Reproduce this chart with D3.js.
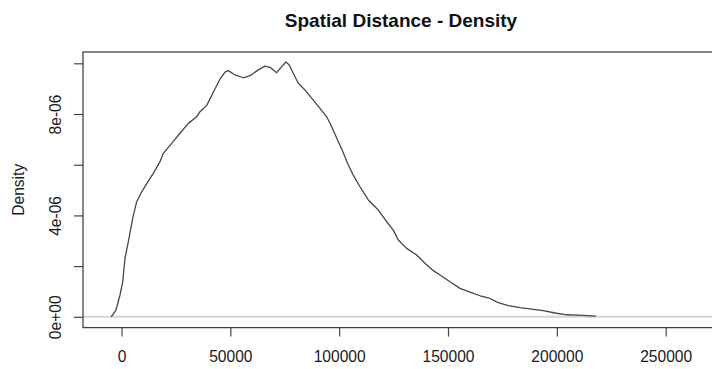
<!DOCTYPE html>
<html>
<head>
<meta charset="utf-8">
<script src="https://cdn.jsdelivr.net/npm/d3@7"></script>
<style>
  html, body { margin: 0; padding: 0; background: #fff; }
  svg { display: block; font-family: "Liberation Sans", Arial, Helvetica, sans-serif; }
</style>
</head>
<body>
<svg id="chart" width="712" height="369"></svg>
<script>
// Kernel density estimate of spatial distances (x: distance, y: density)
const distance = [
  -4820, -4040, -2530, -690, 550, 1610, 3120, 5150, 6980, 9280,
  13090, 14610, 17690, 19200, 23060, 26870, 30690, 34550, 36060, 39140,
  42170, 45250, 47550, 49060, 52140, 55950, 59030, 62840, 65920, 68220,
  71300, 73590, 75570, 77090, 78920, 81220, 84300, 88110, 91190, 94270,
  96560, 99100, 101500, 104190, 106490, 109570, 113380, 117970, 121830, 124860,
  127160, 131020, 135610, 139430, 143240, 146320, 150910, 155510, 160100, 164700,
  168510, 173100, 177700, 183070, 188450, 193770, 199150, 204520, 212150, 217980
];
const density = [
  0.00e-6, 0.07e-6, 0.27e-6, 0.86e-6, 1.38e-6, 2.31e-6, 2.96e-6, 3.89e-6, 4.54e-6, 4.93e-6,
  5.46e-6, 5.66e-6, 6.12e-6, 6.45e-6, 6.84e-6, 7.24e-6, 7.63e-6, 7.89e-6, 8.09e-6, 8.34e-6,
  8.86e-6, 9.38e-6, 9.65e-6, 9.71e-6, 9.54e-6, 9.43e-6, 9.51e-6, 9.74e-6, 9.89e-6, 9.84e-6,
  9.63e-6, 9.87e-6, 10.05e-6, 9.93e-6, 9.61e-6, 9.21e-6, 8.95e-6, 8.55e-6, 8.22e-6, 7.89e-6,
  7.50e-6, 7.00e-6, 6.55e-6, 5.99e-6, 5.59e-6, 5.13e-6, 4.61e-6, 4.21e-6, 3.75e-6, 3.42e-6,
  3.03e-6, 2.70e-6, 2.44e-6, 2.11e-6, 1.82e-6, 1.65e-6, 1.38e-6, 1.12e-6, 0.97e-6, 0.83e-6,
  0.75e-6, 0.56e-6, 0.44e-6, 0.36e-6, 0.30e-6, 0.24e-6, 0.15e-6, 0.08e-6, 0.06e-6, 0.03e-6
];

const xTicks = [0, 50000, 100000, 150000, 200000, 250000];
const xTickLabels = ["0", "50000", "100000", "150000", "200000", "250000"];
const yTicks = [0, 2e-6, 4e-6, 6e-6, 8e-6, 1e-5];
const yTickLabels = ["0e+00", "", "4e-06", "", "8e-06", ""];

const titleText = "Spatial Distance - Density";
const yAxisTitle = "Density";

const points = distance.map((d, i) => ({ x: d, y: density[i] }));

const svg = d3.select("#chart");
const W = 712, H = 369;
const box = { left: 83, right: 719, top: 52, bottom: 327.6 };

svg.append("rect").attr("width", W).attr("height", H).attr("fill", "#fff");

const x = d3.scaleLinear().domain([-17690, 274500]).range([box.left, box.right]);
const y = d3.scaleLinear().domain([-0.426e-6, 10.446e-6]).range([box.bottom, box.top]);

// horizontal reference line at zero density
svg.append("line")
  .attr("x1", box.left).attr("x2", box.right)
  .attr("y1", y(0)).attr("y2", y(0))
  .attr("stroke", "#d6d6d6").attr("stroke-width", 2);

// density curve
svg.append("path")
  .datum(points)
  .attr("fill", "none")
  .attr("stroke", "#474747")
  .attr("stroke-width", 1.3)
  .attr("stroke-linejoin", "round")
  .attr("d", d3.line().x(d => x(d.x)).y(d => y(d.y)));

// plot frame
svg.append("rect")
  .attr("x", box.left).attr("y", box.top)
  .attr("width", box.right - box.left).attr("height", box.bottom - box.top)
  .attr("fill", "none").attr("stroke", "#444").attr("stroke-width", 1.3);

// x axis
const xAxis = d3.axisBottom(x)
  .tickValues(xTicks)
  .tickSize(9)
  .tickFormat((d, i) => xTickLabels[i]);
const gx = svg.append("g").attr("transform", `translate(0,${box.bottom})`).call(xAxis);
gx.select(".domain").remove();
gx.selectAll(".tick line").attr("stroke", "#444").attr("stroke-width", 1.2);
gx.selectAll(".tick text")
  .attr("y", 34.5).attr("dy", null)
  .attr("fill", "#1a1a1a")
  .style("font-size", "15.6px")
  .style("font-family", "'Liberation Sans', Arial, sans-serif");

// y axis
const yAxis = d3.axisLeft(y)
  .tickValues(yTicks)
  .tickSize(9)
  .tickFormat((d, i) => yTickLabels[i]);
const gy = svg.append("g").attr("transform", `translate(${box.left},0)`).call(yAxis);
gy.select(".domain").remove();
gy.selectAll(".tick line").attr("stroke", "#444").attr("stroke-width", 1.2);
gy.selectAll(".tick text")
  .attr("x", null).attr("dy", null)
  .attr("text-anchor", "middle")
  .attr("transform", "translate(-22.5,0) rotate(-90)")
  .attr("fill", "#1a1a1a")
  .style("font-size", "15.6px")
  .style("font-family", "'Liberation Sans', Arial, sans-serif");

// y axis title
svg.append("text")
  .attr("transform", `translate(23.5,${(box.top + box.bottom) / 2}) rotate(-90)`)
  .attr("text-anchor", "middle")
  .attr("fill", "#1a1a1a")
  .style("font-size", "15.6px")
  .text(yAxisTitle);

// chart title
svg.append("text")
  .attr("x", (box.left + box.right) / 2)
  .attr("y", 26.5)
  .attr("text-anchor", "middle")
  .attr("fill", "#111")
  .style("font-size", "19px")
  .style("font-weight", "bold")
  .text(titleText);
</script>
</body>
</html>
